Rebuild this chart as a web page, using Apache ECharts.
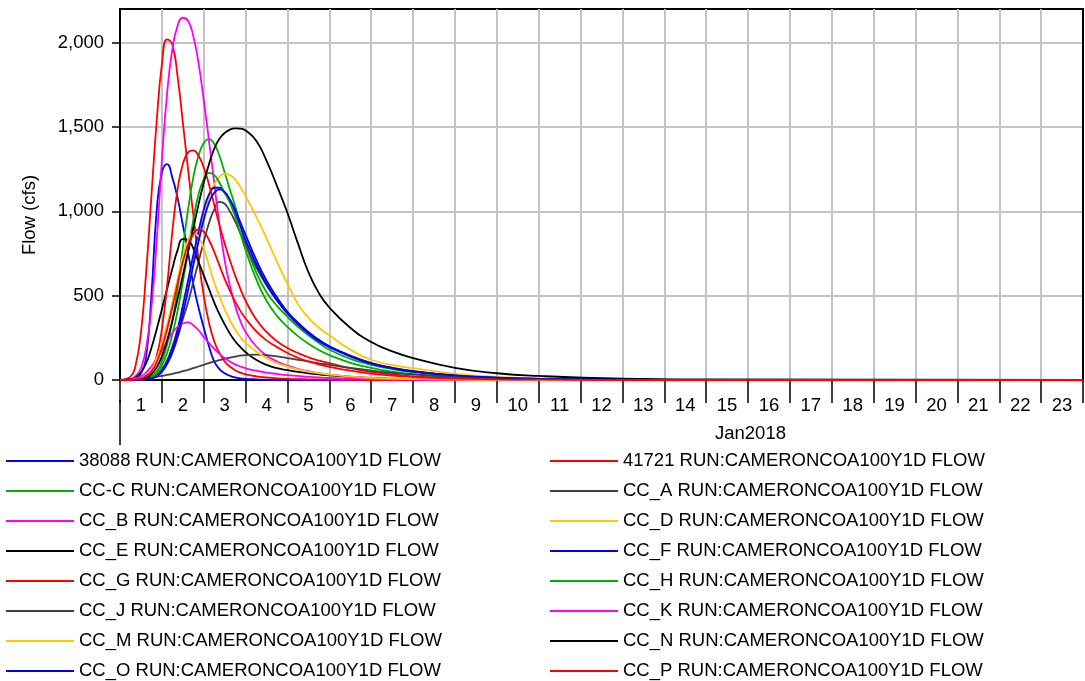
<!DOCTYPE html>
<html>
<head>
<meta charset="utf-8">
<script src="https://cdn.jsdelivr.net/npm/echarts@6/dist/echarts.min.js"></script>
<style>
  html, body { margin: 0; padding: 0; background: #fff; }
  #chart { width: 1085px; height: 681px; }
</style>
</head>
<body>
<div id="chart"></div>
<script>
// hours since Jan 1 2018 00:00
const hours = [0, 6, 9, 12, 15, 18, 21, 24, 27, 30,
  33, 36, 39, 42, 45, 48, 51, 54, 57, 60,
  63, 66, 69, 72, 78, 84, 90, 96, 102, 108,
  114, 120, 132, 144, 156, 168, 192, 216, 240, 288,
  336, 552];
const days = ["1", "2", "3", "4", "5", "6", "7", "8", "9", "10", "11", "12", "13", "14", "15", "16", "17", "18", "19", "20", "21", "22", "23"];
const yTicks = [0, 500, 1000, 1500, 2000];

const flow38088 = [0, 2, 10, 40, 140, 500, 1000, 1230, 1280, 1200,
  1080, 920, 760, 570, 430, 310, 200, 110, 65, 40,
  25, 15, 10, 7, 4, 2, 1, 1, 0, 0,
  0, 0, 0, 0, 0, 0, 0, 0, 0, 0,
  0, 0];
const flow41721 = [0, 20, 90, 280, 640, 1090, 1530, 1870, 2020, 1990,
  1800, 1530, 1250, 980, 720, 500, 340, 230, 160, 110,
  80, 58, 44, 34, 22, 15, 10, 7, 5, 4,
  3, 2, 1, 0, 0, 0, 0, 0, 0, 0,
  0, 0];
const flowCC_C = [0, 0, 2, 5, 10, 22, 50, 110, 210, 350,
  540, 780, 1010, 1200, 1330, 1405, 1428, 1400, 1330, 1230,
  1130, 1030, 920, 810, 640, 520, 440, 375, 315, 265,
  220, 180, 125, 90, 65, 47, 24, 13, 7, 2,
  0, 0];
const flowCC_A = [0, 0, 1, 3, 6, 12, 25, 50, 95, 160,
  250, 360, 460, 580, 700, 820, 930, 1010, 1056, 1045,
  1000, 940, 870, 800, 670, 560, 470, 395, 330, 280,
  235, 200, 145, 100, 72, 52, 27, 15, 8, 2,
  0, 0];
const flowCC_B = [0, 5, 25, 70, 190, 430, 820, 1300, 1700, 1960,
  2100, 2148, 2130, 2040, 1880, 1660, 1420, 1170, 920, 710,
  560, 440, 350, 285, 200, 145, 110, 85, 66, 52,
  40, 32, 20, 13, 8, 5, 2, 1, 0, 0,
  0, 0];
const flowCC_D = [0, 0, 1, 3, 5, 10, 28, 60, 115, 195,
  300, 420, 560, 700, 840, 970, 1080, 1160, 1205, 1222,
  1215, 1190, 1145, 1090, 970, 840, 700, 570, 450, 370,
  310, 265, 180, 120, 90, 70, 36, 18, 10, 3,
  1, 0];
const flowCC_E = [0, 5, 15, 45, 100, 190, 300, 420, 540, 660,
  770, 835, 830, 780, 700, 620, 540, 460, 390, 330,
  275, 230, 195, 165, 120, 90, 70, 58, 48, 40,
  33, 27, 18, 11, 7, 4, 2, 1, 0, 0,
  0, 0];
const flowCC_F = [0, 0, 1, 3, 5, 10, 28, 60, 115, 195,
  300, 440, 590, 740, 880, 1010, 1100, 1140, 1140, 1110,
  1060, 990, 910, 830, 690, 570, 475, 395, 330, 275,
  230, 195, 140, 97, 70, 50, 26, 14, 7, 2,
  0, 0];
const flowCC_G = [0, 0, 4, 10, 25, 55, 140, 300, 560, 880,
  1130, 1280, 1350, 1362, 1330, 1260, 1160, 1040, 920, 810,
  710, 620, 540, 470, 360, 285, 230, 190, 160, 135,
  115, 100, 70, 48, 33, 22, 10, 4, 2, 0,
  0, 0];
const flowCC_H = [0, 0, 1, 3, 8, 15, 38, 85, 160, 270,
  410, 580, 760, 950, 1100, 1190, 1228, 1215, 1170, 1110,
  1050, 970, 870, 770, 600, 470, 380, 315, 260, 215,
  178, 148, 102, 72, 50, 35, 17, 9, 4, 1,
  0, 0];
const flowCC_J = [0, 0, 2, 4, 8, 12, 18, 24, 30, 37,
  44, 52, 60, 70, 80, 90, 100, 110, 118, 126,
  133, 139, 144, 147, 150, 148, 140, 130, 120, 110,
  99, 90, 72, 56, 43, 33, 19, 11, 6, 2,
  0, 0];
const flowCC_K = [0, 3, 10, 22, 45, 80, 125, 175, 230, 280,
  315, 335, 342, 325, 295, 255, 220, 185, 155, 130,
  110, 93, 80, 70, 55, 44, 36, 29, 24, 19,
  15, 12, 8, 5, 3, 2, 1, 0, 0, 0,
  0, 0];
const flowCC_M = [0, 0, 4, 10, 28, 60, 125, 215, 330, 460,
  600, 730, 830, 872, 850, 780, 680, 580, 495, 420,
  355, 300, 255, 220, 170, 130, 100, 80, 63, 50,
  40, 32, 20, 13, 8, 5, 2, 1, 0, 0,
  0, 0];
const flowCC_N = [0, 0, 2, 5, 14, 35, 75, 140, 235, 350,
  480, 620, 760, 900, 1040, 1170, 1280, 1370, 1430, 1465,
  1485, 1492, 1490, 1480, 1420, 1300, 1150, 990, 810, 640,
  515, 430, 310, 225, 170, 130, 72, 40, 24, 8,
  3, 0];
const flowCC_O = [0, 0, 1, 2, 4, 8, 22, 50, 98, 170,
  265, 390, 530, 680, 820, 950, 1050, 1110, 1130, 1115,
  1070, 1010, 935, 860, 715, 590, 490, 405, 340, 285,
  238, 200, 143, 100, 72, 52, 27, 14, 7, 2,
  0, 0];
const flowCC_P = [0, 0, 4, 10, 25, 50, 105, 190, 300, 430,
  570, 700, 800, 865, 893, 880, 830, 760, 680, 600,
  530, 465, 410, 365, 290, 235, 195, 160, 132, 110,
  92, 78, 55, 38, 26, 18, 8, 4, 2, 0,
  0, 0];

const names = [
  "38088 RUN:CAMERONCOA100Y1D FLOW", "41721 RUN:CAMERONCOA100Y1D FLOW",
  "CC-C RUN:CAMERONCOA100Y1D FLOW", "CC_A RUN:CAMERONCOA100Y1D FLOW",
  "CC_B RUN:CAMERONCOA100Y1D FLOW", "CC_D RUN:CAMERONCOA100Y1D FLOW",
  "CC_E RUN:CAMERONCOA100Y1D FLOW", "CC_F RUN:CAMERONCOA100Y1D FLOW",
  "CC_G RUN:CAMERONCOA100Y1D FLOW", "CC_H RUN:CAMERONCOA100Y1D FLOW",
  "CC_J RUN:CAMERONCOA100Y1D FLOW", "CC_K RUN:CAMERONCOA100Y1D FLOW",
  "CC_M RUN:CAMERONCOA100Y1D FLOW", "CC_N RUN:CAMERONCOA100Y1D FLOW",
  "CC_O RUN:CAMERONCOA100Y1D FLOW", "CC_P RUN:CAMERONCOA100Y1D FLOW",
];
const flows = [flow38088, flow41721, flowCC_C, flowCC_A, flowCC_B, flowCC_D, flowCC_E, flowCC_F,
  flowCC_G, flowCC_H, flowCC_J, flowCC_K, flowCC_M, flowCC_N, flowCC_O, flowCC_P];
const colors = ["#0000ff", "#ff0000", "#00b000", "#404040", "#ff00ff", "#ffc800", "#000000", "#0000ff",
  "#ff0000", "#00b000", "#404040", "#ff00ff", "#ffc800", "#000000", "#0000ff", "#ff0000"];

const FONT = "Liberation Sans";
const GRID_GRAY = "#c4c4c4";

window.onload = function () {
  var myChart = echarts.init(document.getElementById("chart"));

  var series = names.map((name, k) => ({
    name: name,
    type: "line",
    xAxisIndex: 0,
    symbol: "none",
    smooth: 0.5,
    color: colors[k],
    lineStyle: { width: 1.8, color: colors[k] },
    data: hours.map((h, i) => [h, flows[k][i]]),
  }));

  // last split line of each axis sits on the plot frame, keep it black
  var xSplitColors = days.map(() => GRID_GRAY).concat(["#000"]);
  var ySplitColors = yTicks.map(() => GRID_GRAY).concat(["#000"]);

  var option = {
    animation: false,
    backgroundColor: "#fff",
    textStyle: { fontFamily: FONT },
    grid: {
      left: 120, right: 2, top: 9, bottom: 301,
      show: true, borderColor: "#000", borderWidth: 2,
    },
    xAxis: [
      {
        type: "value", position: "bottom",
        min: 0, max: 552, interval: 24,
        axisLine: { lineStyle: { color: "#000", width: 2 } },
        axisTick: { length: 23, lineStyle: { color: "#000", width: 1.5 } },
        axisLabel: { show: false },
        splitLine: { lineStyle: { color: xSplitColors, width: 2 } },
      },
      {
        type: "category", position: "bottom", data: days,
        boundaryGap: true,
        axisLine: { show: false },
        axisTick: { show: false },
        splitLine: { show: false },
        axisLabel: { interval: 0, margin: 16, color: "#000", fontSize: 18.5, fontFamily: FONT },
      },
    ],
    yAxis: {
      type: "value", min: 0, max: 2200, interval: 500,
      axisLine: { show: true, lineStyle: { color: "#000", width: 2 } },
      axisTick: { show: true, length: 8, lineStyle: { color: "#000", width: 1.5 } },
      axisLabel: {
        margin: 16, color: "#000", fontSize: 18.5, fontFamily: FONT, showMaxLabel: false,
        formatter: (v) => (yTicks.indexOf(v) >= 0 ? v.toLocaleString("en-US") : ""),
      },
      splitLine: { lineStyle: { color: ySplitColors, width: 2 } },
    },
    legend: {
      left: 5, top: 450, width: 1080,
      orient: "horizontal",
      itemWidth: 68, itemHeight: 2, itemGap: 8,
      padding: 0,
      textStyle: { width: 462, lineHeight: 22, fontSize: 18.5, color: "#000", fontFamily: FONT },
      data: names,
    },
    graphic: [
      {
        type: "text", x: 30, y: 215, rotation: Math.PI / 2,
        style: { text: "Flow (cfs)", font: "18.5px " + FONT, fill: "#000", align: "center", verticalAlign: "middle" },
      },
      {
        type: "text", left: 715, top: 424,
        style: { text: "Jan2018", font: "18.5px " + FONT, fill: "#000" },
      },
      {
        type: "line", shape: { x1: 120, y1: 400, x2: 120, y2: 445 },
        style: { stroke: "#000", lineWidth: 1.5 },
      },
    ],
    series: series,
  };

  myChart.setOption(option);
};
</script>
</body>
</html>
